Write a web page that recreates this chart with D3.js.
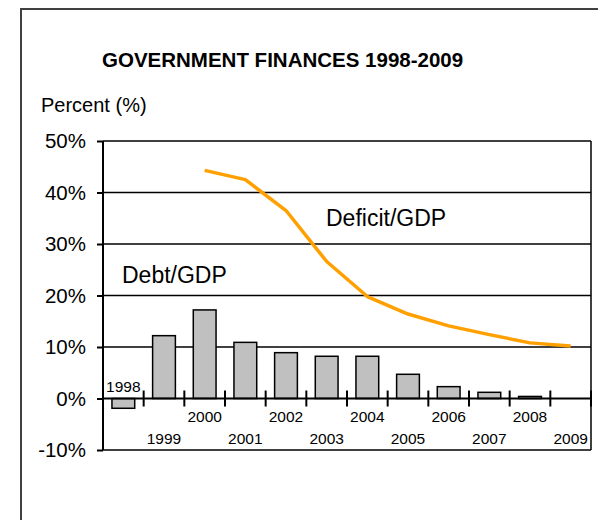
<!DOCTYPE html>
<html>
<head>
<meta charset="utf-8">
<script src="https://cdn.jsdelivr.net/npm/d3@7"></script>
<style>
  body { margin: 0; background: #fff; }
  text { font-family: Arial, "Liberation Sans", sans-serif; fill: #000; }
</style>
</head>
<body>
<script>
// Chart data
var years = ["1998", "1999", "2000", "2001", "2002", "2003", "2004", "2005", "2006", "2007", "2008", "2009"];
var debtValues = [-1.9, 12.2, 17.2, 10.9, 8.9, 8.2, 8.2, 4.7, 2.3, 1.2, 0.4, 0];
var deficitValues = [null, null, 44.3, 42.5, 36.5, 26.6, 19.8, 16.4, 14.1, 12.4, 10.8, 10.2];
var yTicks = [-10, 0, 10, 20, 30, 40, 50];

// Define SVG area dimensions
var svgWidth = 598;
var svgHeight = 520;

// Plot area edges
var plot = { left: 103, right: 591, top: 141, bottom: 450 };

var svg = d3.select("body")
  .append("svg")
  .attr("width", svgWidth)
  .attr("height", svgHeight);

// outer frame (runs off the right/bottom of the picture)
svg.append("rect")
  .attr("x", 21)
  .attr("y", 9)
  .attr("width", 700)
  .attr("height", 700)
  .attr("fill", "none")
  .attr("stroke", "#404040")
  .attr("stroke-width", 2);

// title
svg.append("text")
  .attr("x", 102)
  .attr("y", 67)
  .attr("font-size", "20.5px")
  .attr("font-weight", "bold")
  .text("GOVERNMENT FINANCES 1998-2009");

svg.append("text")
  .attr("x", 41)
  .attr("y", 112)
  .attr("font-size", "20px")
  .text("Percent (%)");

// scales
var yScale = d3.scaleLinear()
  .domain([-10, 50])
  .range([plot.bottom, plot.top]);

var xScale = d3.scaleBand()
  .domain(years)
  .range([plot.left, plot.right])
  .padding(0);

var step = xScale.step();
var barWidth = step * 0.56;

// horizontal grid lines
svg.append("g")
  .selectAll("line")
  .data(yTicks.filter(d => d !== 0))
  .enter()
  .append("line")
  .attr("x1", plot.left)
  .attr("x2", plot.right)
  .attr("y1", d => yScale(d))
  .attr("y2", d => yScale(d))
  .attr("stroke", "#000")
  .attr("stroke-width", 1.5);

// right border
svg.append("line")
  .attr("x1", plot.right)
  .attr("x2", plot.right)
  .attr("y1", plot.top)
  .attr("y2", plot.bottom)
  .attr("stroke", "#000")
  .attr("stroke-width", 1.5);

// left axis
var leftAxis = d3.axisLeft(yScale)
  .tickValues(yTicks)
  .tickSize(6)
  .tickPadding(11)
  .tickFormat(d => d + "%");

var yAxisGroup = svg.append("g")
  .attr("transform", `translate(${plot.left}, 0)`)
  .call(leftAxis);

yAxisGroup.select(".domain").remove();
yAxisGroup.append("line")
  .attr("y1", plot.top)
  .attr("y2", plot.bottom)
  .attr("stroke", "#000")
  .attr("stroke-width", 2);
yAxisGroup.selectAll(".tick line")
  .attr("stroke", "#000")
  .attr("stroke-width", 2);
yAxisGroup.selectAll(".tick text")
  .attr("font-size", "20.5px")
  .attr("font-family", "Arial, 'Liberation Sans', sans-serif")
  .attr("fill", "#000");

// bars
svg.append("g")
  .selectAll("rect")
  .data(debtValues)
  .enter()
  .append("rect")
  .attr("x", (d, i) => xScale(years[i]) + (step - barWidth) / 2)
  .attr("y", d => yScale(Math.max(d, 0)))
  .attr("width", barWidth)
  .attr("height", d => Math.abs(yScale(d) - yScale(0)))
  .attr("fill", "#c0c0c0")
  .attr("stroke", "#000")
  .attr("stroke-width", 1.5);

// zero axis with crossing category ticks
var y0 = yScale(0);
svg.append("line")
  .attr("x1", plot.left)
  .attr("x2", plot.right)
  .attr("y1", y0)
  .attr("y2", y0)
  .attr("stroke", "#000")
  .attr("stroke-width", 2);

svg.append("g")
  .selectAll("line")
  .data(years)
  .enter()
  .append("line")
  .attr("x1", d => xScale(d) + step)
  .attr("x2", d => xScale(d) + step)
  .attr("y1", y0 - 8)
  .attr("y2", y0 + 8)
  .attr("stroke", "#000")
  .attr("stroke-width", 2);

// year labels, staggered
svg.append("g")
  .selectAll("text")
  .data(years)
  .enter()
  .append("text")
  .attr("x", d => xScale(d) + step / 2)
  .attr("y", (d, i) => i === 0 ? y0 - 7 : (i % 2 === 0 ? y0 + 23 : y0 + 45))
  .attr("text-anchor", "middle")
  .attr("font-size", "15.5px")
  .text(d => d);

// deficit line
var drawLine = d3.line()
  .defined(d => d !== null)
  .x((d, i) => xScale(years[i]) + step / 2)
  .y(d => yScale(d));

svg.append("path")
  .datum(deficitValues)
  .attr("d", drawLine)
  .attr("fill", "none")
  .attr("stroke", "#ffa000")
  .attr("stroke-width", 3.5)
  .attr("stroke-linejoin", "round");

// series labels
svg.append("text")
  .attr("x", 122)
  .attr("y", 283)
  .attr("font-size", "23px")
  .text("Debt/GDP");

svg.append("text")
  .attr("x", 326)
  .attr("y", 226)
  .attr("font-size", "23px")
  .text("Deficit/GDP");
</script>
</body>
</html>
